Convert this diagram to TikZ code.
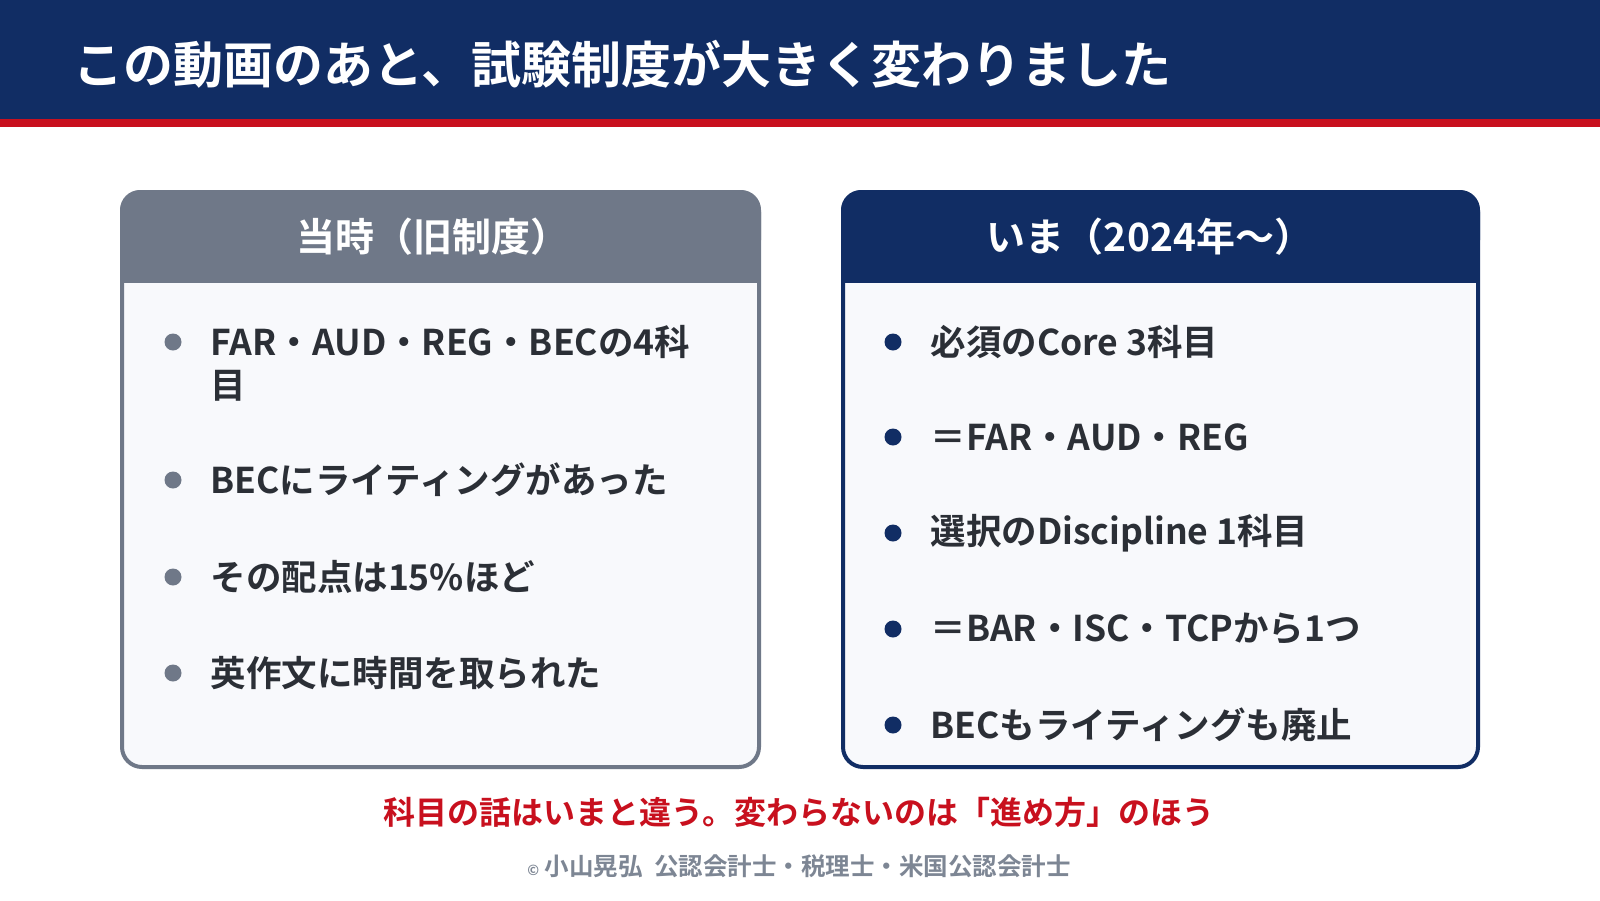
\documentclass[tikz,border=0pt]{standalone}
\usepackage{fontspec}
\setmainfont{Noto Sans CJK JP}[BoldFont={Noto Sans CJK JP Bold}]
\definecolor{navy}{HTML}{112D64}
\definecolor{redline}{HTML}{C8101E}
\definecolor{graybox}{HTML}{6F7888}
\definecolor{txt}{HTML}{2B2F36}
\definecolor{panelbg}{HTML}{F8F9FC}
\begin{document}
\begin{tikzpicture}[x=1pt,y=-1pt,
  item/.style={anchor=west,text=txt,font=\fontsize{35.5}{42}\selectfont\bfseries},
  dotL/.style={circle,fill=graybox,inner sep=0,minimum size=17},
  dotR/.style={circle,fill=navy,inner sep=0,minimum size=17}]
\useasboundingbox (0,0) rectangle (1600,900);
\fill[white] (0,0) rectangle (1600,900);
\fill[navy] (0,0) rectangle (1600,119);
\fill[redline] (0,119) rectangle (1600,127);
\node[anchor=west,text=white,font=\fontsize{50}{58}\selectfont\bfseries] (title) at (70,64) {この動画のあと、試験制度が大きく変わりました};
% left panel
\fill[panelbg,draw=graybox,line width=4,rounded corners=20] (122,192) rectangle (759,767);
\fill[graybox,rounded corners=20] (120,190) rectangle (761,260);
\fill[graybox] (120,240) rectangle (761,283);
\node[text=white,font=\fontsize{39}{46}\selectfont\bfseries] (lh) at (433,237) {当時（旧制度）};
% right panel
\fill[panelbg,draw=navy,line width=4,rounded corners=20] (843,192) rectangle (1478,767);
\fill[navy,rounded corners=20] (841,190) rectangle (1480,260);
\fill[navy] (841,240) rectangle (1480,283);
\node[text=white,font=\fontsize{39}{46}\selectfont\bfseries] (rh) at (1150,237) {いま（2024年〜）};
% left items
\node[dotL] (l1) at (173,342) {};
\node[item] (t1) at (207,342) {FAR・AUD・REG・BECの4科};
\node[item] (t1b) at (207,386) {目};
\node[dotL] (l2) at (173,480) {};
\node[item] (t2) at (207,480) {BECにライティングがあった};
\node[dotL] (l3) at (173,577) {};
\node[item] (t3) at (207,577) {その配点は15\%ほど};
\node[dotL] (l4) at (173,673) {};
\node[item] (t4) at (207,673) {英作文に時間を取られた};
% right items
\node[dotR] (r1) at (893,342) {};
\node[item] (u1) at (927,342) {必須のCore 3科目};
\node[dotR] (r2) at (893,437) {};
\node[item] (u2) at (927,437) {＝FAR・AUD・REG};
\node[dotR] (r3) at (893,533) {};
\node[item] (u3) at (927,533) {選択のDiscipline 1科目};
\node[dotR] (r4) at (893,629) {};
\node[item] (u4) at (927,629) {＝BAR・ISC・TCPから1つ};
\node[dotR] (r5) at (893,725) {};
\node[item] (u5) at (927,725) {BECもライティングも廃止};
\node[text=redline,font=\fontsize{32}{38}\selectfont\bfseries] (note) at (799,812) {科目の話はいまと違う。変わらないのは「進め方」のほう};
\node[text=graybox!90,font=\fontsize{24.5}{30}\selectfont\bfseries] (foot) at (799,866) {{\fontsize{14}{16}\selectfont ©} 小山晃弘\ \ 公認会計士・税理士・米国公認会計士};
\end{tikzpicture}
\end{document}
